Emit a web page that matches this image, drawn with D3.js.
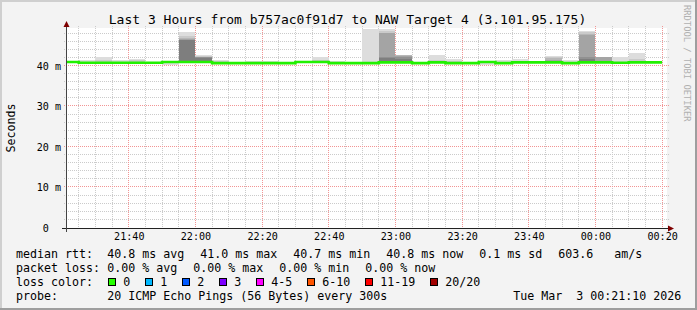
<!DOCTYPE html>
<html><head><meta charset="utf-8">
<script src="https://cdn.jsdelivr.net/npm/d3@7"></script>
<style>
html,body{margin:0;padding:0;background:#f3f3f3;}
svg{display:block;font-family:"DejaVu Sans Mono",monospace;}
text{white-space:pre;}
</style>
</head><body><svg id="c" width="697" height="310"></svg>
<script>
// ---------- data ----------
const title = "Last 3 Hours from b757ac0f91d7 to NAW Target 4 (3.101.95.175)";
const yAxisTitle = "Seconds";
const watermark = "RRDTOOL / TOBI OETIKER";
const startTime = new Date(2026, 2, 2, 21, 21, 10);
const endTime = new Date(2026, 2, 3, 0, 21, 10);
const firstBin = new Date(2026, 2, 2, 21, 20, 0);
const stepMinutes = 5;

// median RTT per 5-minute step (ms)
const median = [41.0,40.8,40.8,40.8,40.8,40.8,41.0,41.0,41.0,40.7,40.7,40.7,40.7,40.7,41.0,41.0,40.7,40.7,40.7,40.9,40.9,40.7,40.9,40.7,40.7,41.0,40.7,40.9,40.9,40.9,40.7,40.9,40.9,40.8,40.9,40.9];
// lowest ping per step
const pingMin = [40.9,40.7,40.7,40.7,40.7,40.7,40.3,40.9,40.9,40.6,40.6,40.6,40.6,40.6,40.9,40.9,40.6,40.6,40.6,40.8,40.8,40.6,40.8,40.6,40.6,40.25,40.6,40.8,40.8,40.8,40.6,40.8,40.8,40.7,40.8,40.8];
// upper sorted pings (20th, 19th, ... 15th of 20)
const ping20 = [41.2,41.5,42.1,41.5,41.8,41.0,41.1,48.3,42.7,41.6,40.9,41.3,41.2,41.1,41.2,42.2,41.3,40.9,49.2,49.1,42.8,40.8,42.7,41.8,40.8,41.1,41.6,41.7,41.2,42.5,41.6,48.6,42.3,42.3,43.3,41.2];
const ping19 = [41.0,41.0,41.6,41.0,41.5,40.9,41.0,47.5,42.4,41.3,40.8,40.9,40.9,40.8,41.1,41.6,40.9,40.8,41.0,48.6,42.7,40.8,41.6,41.3,40.8,41.0,41.0,41.2,41.0,42.3,41.0,48.3,42.2,41.0,41.8,41.0];
const ping18 = [41.0,40.9,41.1,40.9,41.0,40.8,41.0,47.0,42.3,40.9,40.7,40.8,40.8,40.7,41.0,41.2,40.8,40.7,40.8,48.2,42.6,40.7,41.0,40.8,40.7,41.0,40.8,41.0,41.0,42.0,40.8,47.8,42.1,40.9,41.0,41.0];
const ping17 = [41.0,40.8,40.8,40.8,40.8,40.8,41.0,46.7,42.2,40.7,40.7,40.7,40.7,40.7,41.0,41.0,40.7,40.7,40.7,48.1,42.5,40.7,40.9,40.7,40.7,41.0,40.7,40.9,40.9,41.6,40.7,47.6,42.1,40.8,40.9,40.9];
const ping16 = [41.0,40.8,40.8,40.8,40.8,40.8,41.0,46.5,42.1,40.7,40.7,40.7,40.7,40.7,41.0,41.0,40.7,40.7,40.7,42.2,42.3,40.7,40.9,40.7,40.7,41.0,40.7,40.9,40.9,41.2,40.7,42.3,41.2,40.8,40.9,40.9];
const ping15 = [41.0,40.8,40.8,40.8,40.8,40.8,41.0,46.4,42.0,40.7,40.7,40.7,40.7,40.7,41.0,41.0,40.7,40.7,40.7,42.0,41.8,40.7,40.9,40.7,40.7,41.0,40.7,40.9,40.9,41.0,40.7,41.8,41.1,40.8,40.9,40.9];

const yMajorTicks = [0, 10, 20, 30, 40];
const yTickLabels = ["0", "10 m", "20 m", "30 m", "40 m"];
const xTickLabels = ["21:40","22:00","22:20","22:40","23:00","23:20","23:40","00:00","00:20"];

const rttLabel = "median rtt:";
const rttStats = ["40.8 ms avg", "41.0 ms max", "40.7 ms min", "40.8 ms now", "0.1 ms sd", "603.6   am/s"];
const lossLabel = "packet loss:";
const lossStats = ["0.00 % avg", "0.00 % max", "0.00 % min", "0.00 % now"];
const lossColorLabel = "loss color:";
const lossLabels = ["0", "1", "2", "3", "4-5", "6-10", "11-19", "20/20"];
const lossColors = ["#26ff00", "#00b8ff", "#0059ff", "#7e00ff", "#ff00ff", "#ff5500", "#ff0000", "#a10000"];
const probeLabel = "probe:";
const probeText = "20 ICMP Echo Pings (56 Bytes) every 300s";
const dateText = "Tue Mar  3 00:21:10 2026";

// ---------- drawing ----------
const W = 697, H = 310;
const svg = d3.select("#c");
svg.append("rect").attr("width", W).attr("height", H).attr("fill", "#f3f3f3");
svg.append("rect").attr("x", 0).attr("y", 0).attr("width", W).attr("height", 2).attr("fill", "#cfcfcf");
svg.append("rect").attr("x", 0).attr("y", 0).attr("width", 2).attr("height", H).attr("fill", "#cfcfcf");
svg.append("rect").attr("x", W - 2).attr("y", 0).attr("width", 2).attr("height", H).attr("fill", "#9e9e9e");
svg.append("rect").attr("x", 0).attr("y", H - 2).attr("width", W).attr("height", 2).attr("fill", "#9e9e9e");

const PL = 66, PR = 666, PT = 28, PB = 228;
const x = d3.scaleTime().domain([startTime, endTime]).range([PL, PR]);
const y = d3.scaleLinear().domain([0, 49.38]).range([PB, PT]);

svg.append("rect").attr("x", PL).attr("y", PT).attr("width", PR - PL + 1).attr("height", PB - PT).attr("fill", "#ffffff");
svg.append("defs").append("clipPath").attr("id", "clip")
  .append("rect").attr("x", PL).attr("y", PT).attr("width", PR - PL + 1).attr("height", PB - PT);

// grid
const grid = svg.append("g").attr("stroke-dasharray", "1,1").attr("stroke-width", 1).attr("shape-rendering", "crispEdges");
const gridTimes = d3.timeMinute.every(5).range(startTime, endTime);
const hVals = d3.range(2, 49.38, 2);
const px = v => Math.floor(v) + 0.5;
const py = v => Math.round(v) - 0.5;
grid.selectAll(".vmin").data(gridTimes.filter(t => t.getMinutes() % 20 !== 0)).join("line")
  .attr("x1", d => px(x(d))).attr("x2", d => px(x(d))).attr("y1", PT - 2).attr("y2", PB)
  .attr("stroke", "#cbcbcb");
grid.selectAll(".hmin").data(hVals.filter(v => v % 10 !== 0)).join("line")
  .attr("y1", d => py(y(d))).attr("y2", d => py(y(d))).attr("x1", PL - 2).attr("x2", PR + 4)
  .attr("stroke", "#cbcbcb");
const g2 = svg.append("g").attr("stroke-dasharray", "1,1").attr("stroke-width", 1).attr("shape-rendering", "crispEdges");
g2.selectAll(".vmaj").data(gridTimes.filter(t => t.getMinutes() % 20 === 0)).join("line")
  .attr("x1", d => px(x(d))).attr("x2", d => px(x(d))).attr("y1", PT - 2).attr("y2", PB)
  .attr("stroke", "#f29595");
g2.selectAll(".hmaj").data(hVals.filter(v => v % 10 === 0)).join("line")
  .attr("y1", d => py(y(d))).attr("y2", d => py(y(d))).attr("x1", PL - 2).attr("x2", PR + 4)
  .attr("stroke", "#f29595");

// smoke
const binStarts = median.map((_, k) => d3.timeMinute.offset(firstBin, k * stepMinutes));
const binEnd = d3.timeMinute.offset(firstBin, median.length * stepMinutes);
function stepPoints(lo, hi) {
  const pts = median.map((_, k) => ({ t: binStarts[k], lo: lo[k], hi: hi[k] }));
  pts.push({ t: binEnd, lo: lo[lo.length - 1], hi: hi[hi.length - 1] });
  return pts;
}
const area = d3.area().x(d => x(d.t)).y0(d => y(d.lo)).y1(d => y(d.hi)).curve(d3.curveStepAfter);
const upper = [ping20, ping19, ping18, ping17, ping16, ping15];
const smoke = svg.append("g").attr("clip-path", "url(#clip)");
upper.forEach((hi, i) => {
  const ibot = i + 1;
  const c = Math.floor(190 / 10 * (10 - ibot)) + 50;
  smoke.append("path")
    .attr("d", area(stepPoints(i === 0 ? pingMin : median, hi)))
    .attr("fill", d3.rgb(c, c, c).formatHex())
    .attr("shape-rendering", "crispEdges");
});

// median line
const line = d3.line().x(d => x(d.t)).y(d => y(d.hi)).curve(d3.curveStepAfter);
smoke.append("path").attr("d", line(stepPoints(median, median)))
  .attr("fill", "none").attr("stroke", "#22f000").attr("stroke-width", 2.6);

// axes
const xTickTimes = xTickLabels.map(s => {
  const [h, m] = s.split(":").map(Number);
  return h < 12 ? new Date(2026, 2, 3, h, m) : new Date(2026, 2, 2, h, m);
});
const xAxis = svg.append("g").attr("transform", `translate(0,${PB})`)
  .call(d3.axisBottom(x).tickValues(xTickTimes).tickFormat((d, i) => xTickLabels[i]).tickSize(0).tickPadding(5.3));
xAxis.select(".domain").remove();
xAxis.selectAll("text").attr("font-family", "DejaVu Sans Mono").attr("font-size", "10.1px").attr("fill", "#000");

const yAxis = svg.append("g").attr("transform", `translate(${PL},0)`)
  .call(d3.axisLeft(y).tickValues(yMajorTicks).tickFormat((d, i) => yTickLabels[i]).tickSize(0).tickPadding(5));
yAxis.select(".domain").remove();
yAxis.selectAll("text").attr("font-family", "DejaVu Sans Mono").attr("font-size", "10.1px").attr("fill", "#000")
  .attr("x", d => d === 0 ? -17.2 : -5);

svg.append("line").attr("x1", 62).attr("x2", 670).attr("y1", PB + 0.5).attr("y2", PB + 0.5)
  .attr("stroke", "#222").attr("shape-rendering", "crispEdges");
svg.append("line").attr("x1", PL + 0.5).attr("x2", PL + 0.5).attr("y1", 25).attr("y2", 231.5)
  .attr("stroke", "#444").attr("shape-rendering", "crispEdges");
svg.append("path").attr("d", `M${PL + 0.5},21 L${PL + 3.5},27 L${PL - 2.5},27 Z`).attr("fill", "#7f0000");
svg.append("path").attr("d", `M674,${PB + 0.5} L668,${PB - 2.5} L668,${PB + 3.5} Z`).attr("fill", "#7f0000");

// title & labels
svg.append("text").attr("x", 347.5).attr("y", 23.5).attr("text-anchor", "middle")
  .attr("font-size", "13px").attr("fill", "#000").text(title);
svg.append("text").attr("transform", "translate(15,128) rotate(-90)").attr("text-anchor", "middle")
  .attr("font-size", "11.63px").attr("fill", "#000").text(yAxisTitle);
svg.append("text").attr("transform", "translate(683.5,5) rotate(90)")
  .attr("font-size", "8.8px").attr("fill", "#b0b0b0").text(watermark);

// legend
const FS = "11.63px";
const leg = svg.append("g").attr("font-size", FS).attr("fill", "#000");
const COLX = 107.3, GLUE = 16;
function row(label, items, yb) {
  leg.append("text").attr("x", 16).attr("y", yb).text(label);
  let cx = COLX;
  items.forEach(s => {
    const t = leg.append("text").attr("x", cx).attr("y", yb).text(s);
    cx += t.node().getComputedTextLength() + GLUE;
  });
}
row(rttLabel, rttStats, 257.5);
row(lossLabel, lossStats, 271.5);
leg.append("text").attr("x", 16).attr("y", 285.5).text(lossColorLabel);
let bx = 108.3;
lossLabels.forEach((s, i) => {
  leg.append("rect").attr("x", Math.round(bx) + 0.5).attr("y", 278.5).attr("width", 7).attr("height", 7)
    .attr("fill", lossColors[i]).attr("stroke", "#000").attr("stroke-width", 1);
  const t = leg.append("text").attr("x", bx + 15).attr("y", 285.5).text(s);
  bx += 15 + t.node().getComputedTextLength() + 15;
});
leg.append("text").attr("x", 16).attr("y", 299.5).text(probeLabel);
leg.append("text").attr("x", COLX).attr("y", 299.5).text(probeText);
leg.append("text").attr("x", 513.3).attr("y", 299.5).text(dateText);
</script>
</body></html>
